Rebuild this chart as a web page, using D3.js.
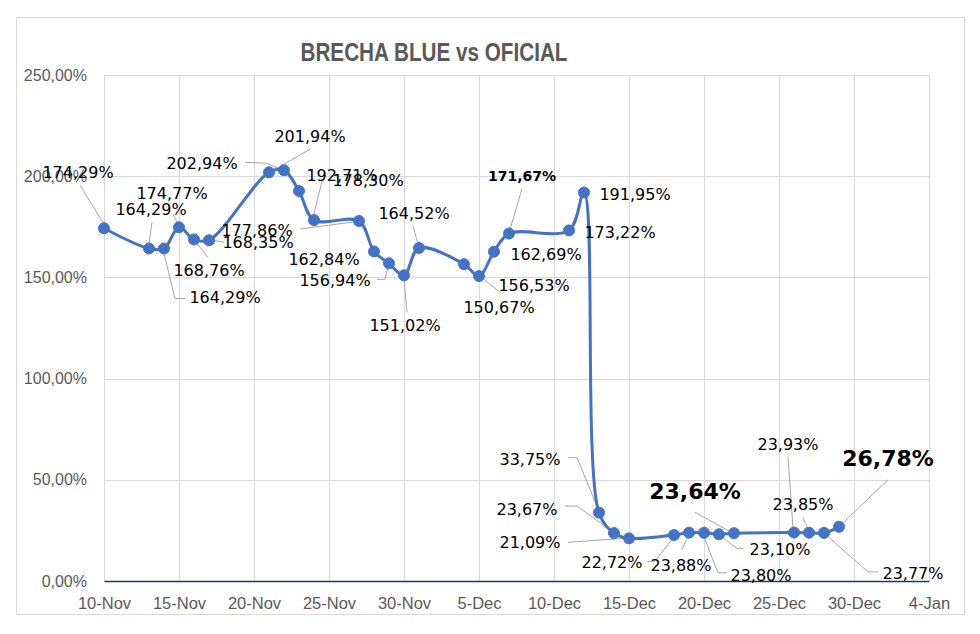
<!DOCTYPE html>
<html>
<head>
<meta charset="utf-8">
<script src="https://cdn.jsdelivr.net/npm/d3@7"></script>
<style>
  html, body { margin: 0; padding: 0; background: #fff; }
  svg { display: block; }
</style>
</head>
<body>
<svg id="chart" width="980" height="634"></svg>
<script>
// ---------- DATA ----------
const title = "BRECHA BLUE vs OFICIAL";
const dates = [
  "2023-11-10","2023-11-13","2023-11-14","2023-11-15","2023-11-16","2023-11-17",
  "2023-11-21","2023-11-22","2023-11-23","2023-11-24","2023-11-27","2023-11-28",
  "2023-11-29","2023-11-30","2023-12-01","2023-12-04","2023-12-05","2023-12-06",
  "2023-12-07","2023-12-11","2023-12-12","2023-12-13","2023-12-14","2023-12-15",
  "2023-12-18","2023-12-19","2023-12-20","2023-12-21","2023-12-22","2023-12-26",
  "2023-12-27","2023-12-28","2023-12-29"
];
const brecha = [
  174.29,164.29,164.29,174.77,168.76,168.35,
  201.94,202.94,192.71,178.30,177.86,162.84,
  156.94,151.02,164.52,156.53,150.67,162.69,
  171.67,173.22,191.95,33.75,23.67,21.09,
  22.72,23.88,23.80,23.10,23.64,23.93,
  23.85,23.77,26.78
];
const yTicks = [0, 50, 100, 150, 200, 250];
const xStart = "2023-11-10";
const xEnd = "2024-01-04";
const xTickStepDays = 5;

// ---------- LABEL LAYOUT (offsets from each point) ----------
const labelLayout = [
  {d:[-26,-56], l:[[-24,-43],[0,-4]]},
  {d:[2,-39], l:[[3,-26],[0,-5]]},
  {d:[61,49], l:[[21,50],[11,50],[0,5]]},
  {d:[-7,-34], l:[[-6,-13],[-2,-5]]},
  {d:[15,31], l:[[14,18],[3,4]]},
  {d:[49,2], l:[[15,2],[4,0]]},
  {d:[41,-36], l:[[41,-23],[4,-2]]},
  {d:[-82,-7], l:[[-39,-8],[-17,-7],[-6,-2]]},
  {d:[43,-16], l:[[23,-10],[14,27]]},
  {d:[54,-40], l:null},
  {d:[-102,9], l:[[-59,8],[-6,1]]},
  {d:[-50,8], l:null},
  {d:[-54,17], l:[[-12,16],[-4,16],[-1,4]]},
  {d:[1,50], l:[[3,37],[0,4]]},
  {d:[-5,-35], l:[[-6,-22],[-1,-4]]},
  {d:[70,21], l:[[36,28],[3,2]]},
  {d:[20,31], l:null},
  {d:[52,3], l:null},
  {d:[13,-58], l:[[13,-45],[1,-4]], bold:true, size:14},
  {d:[51,2], l:null},
  {d:[51,2], l:null},
  {d:[-69,-53], l:[[-31,-55],[-22,-55],[-1,-4]]},
  {d:[-87,-24], l:[[-49,-27],[-37,-27],[-2,-2]]},
  {d:[-99,4], l:[[-61,4],[-4,0]]},
  {d:[-62,27], l:[[-27,27],[-19,26],[-1,3]]},
  {d:[-8,33], l:[[-7,17],[-1,4]]},
  {d:[57,42], l:[[23,40],[14,40],[0,4]]},
  {d:[61,15], l:[[24,14],[18,14],[2,2]]},
  {d:[-39,-42], l:[[-39,-21],[-3,-1]], bold:true, size:22},
  {d:[-6,-88], l:[[-6,-76],[-1,-4]]},
  {d:[-6,-28], l:[[-6,-15],[-1,-4]]},
  {d:[89,40], l:[[54,39],[44,39],[2,2]]},
  {d:[49,-69], l:[[49,-47],[3,-3]], bold:true, size:22}
];

// ---------- CHART ----------
const parse = d3.utcParse("%Y-%m-%d");
const svg = d3.select("#chart");
const plot = {left: 104, right: 929, top: 75, bottom: 581};
const narrow = "'Liberation Sans Narrow', 'Arial Narrow', 'Liberation Sans', Arial, sans-serif";

const locale = d3.formatLocale({decimal: ",", thousands: ".", grouping: [3], currency: ["$", ""]});
const fmtPct = locale.format(".2f");

const x = d3.scaleUtc().domain([parse(xStart), parse(xEnd)]).range([plot.left, plot.right]);
const y = d3.scaleLinear().domain([0, 250]).range([plot.bottom, plot.top]);

// chart frame
svg.append("rect").attr("x", 16.5).attr("y", 17.5).attr("width", 948).attr("height", 597)
  .attr("fill", "#fff").attr("stroke", "#d9d9d9").attr("stroke-width", 1);

// title
svg.append("text").attr("x", 434).attr("y", 61).attr("text-anchor", "middle")
  .attr("font-family", narrow)
  .attr("font-weight", "bold").attr("font-size", 25).attr("fill", "#595959")
  .attr("textLength", 267).attr("lengthAdjust", "spacingAndGlyphs")
  .text(title);

// x tick values
const xTickVals = d3.range(0, d3.utcDay.count(parse(xStart), parse(xEnd)) + 1, xTickStepDays)
  .map(i => d3.utcDay.offset(parse(xStart), i));

// gridlines
const grid = svg.append("g");
grid.selectAll("line.h").data(yTicks.filter(t => t > 0)).join("line")
  .attr("x1", plot.left).attr("x2", plot.right)
  .attr("y1", d => Math.round(y(d)) + 0.5).attr("y2", d => Math.round(y(d)) + 0.5)
  .attr("stroke", "#d9d9d9").attr("stroke-width", 1);
grid.selectAll("line.v").data(xTickVals).join("line")
  .attr("x1", d => Math.round(x(d)) + 0.5).attr("x2", d => Math.round(x(d)) + 0.5)
  .attr("y1", plot.top).attr("y2", plot.bottom)
  .attr("stroke", "#d9d9d9").attr("stroke-width", 1);

// y axis (labels only)
const yAxis = d3.axisLeft(y).tickValues(yTicks).tickSize(0).tickPadding(9)
  .tickFormat(d => fmtPct(d) + "%");
const yg = svg.append("g").attr("transform", `translate(${plot.left - 8},0)`).call(yAxis);
yg.select(".domain").remove();
yg.selectAll("text").attr("fill", "#595959").attr("font-size", 16).attr("font-family", narrow);

// x axis
const xAxis = d3.axisBottom(x).tickValues(xTickVals).tickSize(0).tickPadding(16)
  .tickFormat(d3.utcFormat("%-d-%b"));
const xg = svg.append("g").attr("transform", `translate(0,${plot.bottom})`).call(xAxis);
xg.select(".domain").attr("stroke", "#203864").attr("stroke-width", 1.5);
xg.selectAll("text").attr("fill", "#595959").attr("font-size", 16.5).attr("font-family", narrow);

// data
const data = dates.map((d, i) => ({date: parse(d), v: brecha[i], lay: labelLayout[i]}));

// leader lines
const leaders = svg.append("g");
data.forEach(d => {
  if (!d.lay.l) return;
  const px = x(d.date), py = y(d.v);
  const pts = d.lay.l.map(p => [px + p[0], py + p[1]]);
  leaders.append("path").attr("d", d3.line()(pts))
    .attr("fill", "none").attr("stroke", "#a6a6a6").attr("stroke-width", 1);
});

// line
svg.append("path").datum(data)
  .attr("d", d3.line().x(d => x(d.date)).y(d => y(d.v)).curve(d3.curveCatmullRom.alpha(0.5)))
  .attr("fill", "none").attr("stroke", "#4472C4").attr("stroke-width", 3)
  .attr("stroke-linejoin", "round");

// markers
svg.append("g").selectAll("circle").data(data).join("circle")
  .attr("cx", d => x(d.date)).attr("cy", d => y(d.v)).attr("r", 5.5)
  .attr("fill", "#4472C4").attr("stroke", "#4472C4").attr("stroke-width", 1);

// data labels
svg.append("g").selectAll("text").data(data).join("text")
  .attr("x", d => x(d.date) + d.lay.d[0])
  .attr("y", d => y(d.v) + d.lay.d[1])
  .attr("dy", "0.36em")
  .attr("text-anchor", "middle")
  .attr("font-family", "'DejaVu Sans', Verdana, sans-serif")
  .attr("font-size", d => d.lay.size || 16)
  .attr("font-weight", d => d.lay.bold ? "bold" : "normal")
  .attr("fill", "#000")
  .text(d => fmtPct(d.v) + "%");
</script>
</body>
</html>
